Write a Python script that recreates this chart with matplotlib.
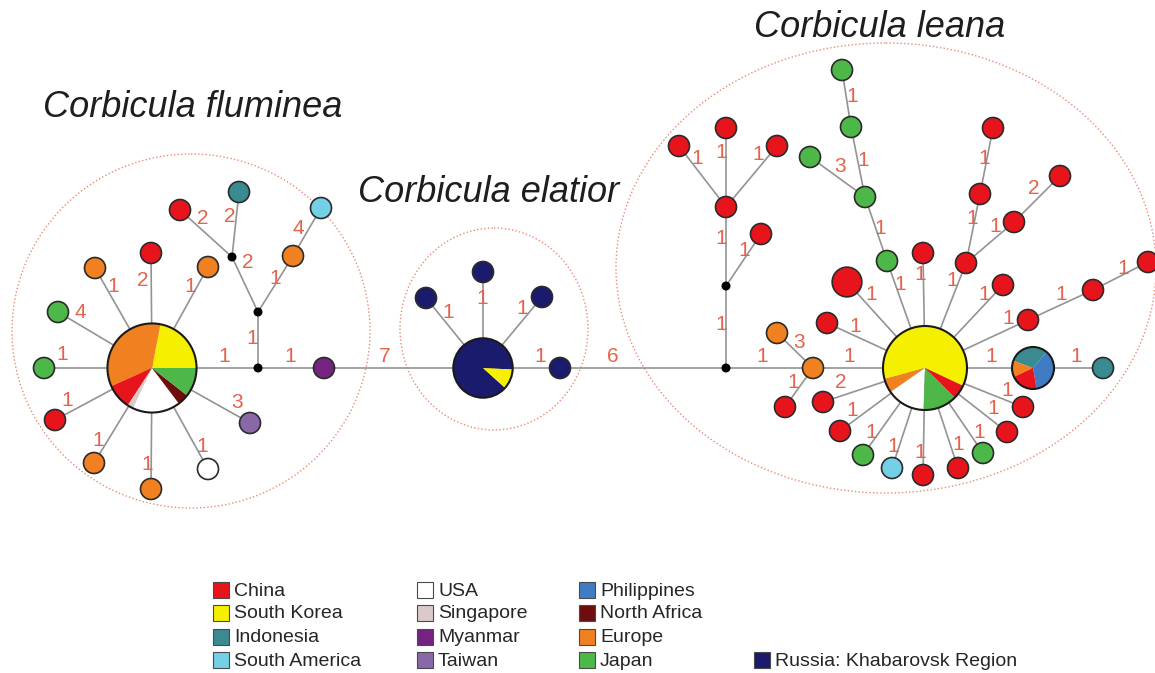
import numpy as np
import matplotlib
matplotlib.use("Agg")
import matplotlib.pyplot as plt
from matplotlib.patches import Circle, Wedge, Ellipse, Rectangle

# ---------------- data ----------------
regions = ['China', 'South Korea', 'Indonesia', 'South America',
           'USA', 'Singapore', 'Myanmar', 'Taiwan',
           'Philippines', 'North Africa', 'Europe', 'Japan',
           'Russia: Khabarovsk Region']

species_titles = ['Corbicula fluminea', 'Corbicula elatior', 'Corbicula leana']

# haplotype region ('mix' = shared haplotype drawn as pie, 'median' = median vector)
hap_region = ['mix', 'Japan', 'Japan', 'Europe', 'China', 'Europe', 'median', 'median',
              'median', 'China', 'Indonesia', 'Europe', 'South America', 'Myanmar',
              'Taiwan', 'USA', 'Europe', 'Europe', 'China',
              'mix', 'Russia: Khabarovsk Region', 'Russia: Khabarovsk Region',
              'Russia: Khabarovsk Region', 'Russia: Khabarovsk Region',
              'median', 'median', 'China', 'China', 'China', 'China', 'China',
              'Europe', 'Europe', 'China', 'mix', 'China', 'China', 'China',
              'Japan', 'Japan', 'Japan', 'Japan', 'Japan', 'China', 'China',
              'China', 'China', 'China', 'China', 'China', 'China', 'China',
              'China', 'mix', 'Indonesia', 'China', 'China', 'Japan', 'China',
              'China', 'South America', 'Japan', 'China']
hap_freq = [18, 1, 1, 1, 1, 1, 0, 0, 0, 1, 1, 1, 1, 1, 1, 1, 1, 1, 1,
            8, 1, 1, 1, 1,
            0, 0, 1, 1, 1, 1, 1, 1, 1, 1, 16, 1, 1, 2,
            1, 1, 1, 1, 1, 1, 1, 1, 1, 1, 1, 1, 1, 1, 1, 4, 1,
            1, 1, 1, 1, 1, 1, 1, 1]

# pie compositions (shares)
pie_nodes = [0, 19, 34, 53]
pie_regions = [
    ['South Korea', 'Europe', 'China', 'Singapore', 'USA', 'North Africa', 'Japan'],
    ['Russia: Khabarovsk Region', 'South Korea'],
    ['South Korea', 'Europe', 'USA', 'Japan', 'China'],
    ['Philippines', 'Indonesia', 'Europe', 'China'],
]
pie_shares = [
    [79, 125, 33, 8, 62, 15, 38],
    [321, 39],
    [220, 20, 53, 47, 20],
    [130, 110, 45, 75],
]

# network edges and number of mutational steps
edge_from = [0, 0, 0, 0, 0, 0, 6, 7, 8, 8, 7, 11, 6, 13, 0, 0, 0, 0, 0,
             19, 19, 19, 19, 23,
             24, 25, 25, 26, 26, 26, 24, 31, 31, 31,
             34, 34, 34, 34, 38, 39, 39, 40, 34, 34, 44, 45, 44, 47,
             34, 34, 50, 51, 34, 53, 34, 34, 34, 34, 34, 34, 34, 34]
edge_to = [1, 2, 3, 4, 5, 6, 7, 8, 9, 10, 11, 12, 13, 19, 14, 15, 16, 17, 18,
           20, 21, 22, 23, 24,
           25, 26, 30, 27, 28, 29, 31, 32, 33, 34,
           35, 36, 37, 38, 39, 40, 42, 41, 43, 44, 45, 46, 47, 48,
           49, 50, 51, 52, 53, 54, 55, 56, 57, 58, 59, 60, 61, 62]
edge_steps = [1, 4, 1, 2, 1, 1, 1, 2, 2, 2, 1, 4, 1, 7, 3, 1, 1, 1, 1,
              1, 1, 1, 1, 6,
              1, 1, 1, 1, 1, 1, 1, 3, 1, 1,
              2, 1, 1, 1, 1, 1, 3, 1, 1, 1, 1, 1, 1, 2,
              1, 1, 1, 1, 1, 1, 1, 1, 1, 1, 1, 1, 1, 1]

# ---------------- layout (pixel space) ----------------
node_x = [152, 44, 58, 95, 151, 208, 258, 258, 232, 180, 239, 293, 321, 324,
          250, 208, 151, 94, 55,
          483, 426, 483, 542, 560,
          726, 726, 726, 679, 726, 777, 761, 813, 777, 785, 925, 823, 827, 847,
          887, 865, 851, 842, 810, 923, 966, 980, 993, 1014, 1060, 1003, 1028,
          1093, 1148, 1033, 1103, 1023, 1007, 983, 958, 923, 892, 863, 840]
node_y = [368, 368, 312, 268, 253, 267, 368, 312, 257, 210, 192, 256, 208, 368,
          423, 469, 489, 463, 420,
          368, 298, 272, 297, 368,
          368, 286, 207, 146, 128, 146, 234, 368, 333, 407, 368, 402, 323, 282,
          261, 197, 127, 70, 157, 253, 263, 194, 128, 222, 176, 285, 320,
          290, 262, 368, 368, 407, 432, 453, 468, 475, 468, 455, 431]
pie_start = [0, -3, -25, -80]

label_x = [62, 80, 113, 143, 190, 224, 252, 248, 203, 230, 275, 298, 290, 385,
           237, 202, 147, 98, 67,
           448, 482, 522, 540, 613,
           721, 721, 744, 697, 721, 758, 762, 799, 793, 849,
           841, 855, 871, 900, 880, 863, 840, 852, 920, 952, 972, 984, 995, 1034,
           984, 1008, 1061, 1123, 991, 1076, 1007, 993, 979, 958, 920, 893, 871, 852]
label_y = [355, 313, 287, 280, 287, 356, 338, 263, 219, 217, 278, 228, 356, 356,
           403, 447, 465, 441, 400,
           313, 298, 309, 357, 357,
           324, 239, 250, 159, 152, 155, 357, 342, 382, 357,
           383, 327, 295, 284, 229, 160, 167, 96, 275, 281, 219, 158, 226, 189,
           294, 319, 295, 268, 357, 357, 391, 408, 432, 445, 452, 446, 433, 410]

colors = {
    'China': '#e8141c', 'South Korea': '#f5ef00', 'Indonesia': '#3b8a8f',
    'South America': '#74d0e6', 'USA': '#ffffff', 'Singapore': '#dccaca',
    'Myanmar': '#74237f', 'Taiwan': '#8a68a8', 'Philippines': '#3f7cc4',
    'North Africa': '#6e0d0d', 'Europe': '#f08020', 'Japan': '#4db848',
    'Russia: Khabarovsk Region': '#1b1b6e',
}

W, H = 1155, 673
fig = plt.figure(figsize=(W / 100, H / 100), dpi=100)
ax = fig.add_axes([0, 0, 1, 1])
ax.set_xlim(0, W)
ax.set_ylim(H, 0)
ax.axis('off')

FONT = 'Liberation Sans'
LABEL_C = '#e5634c'

# species groupings (dotted ellipses)
groups = [((191, 331), 358, 354), ((494, 329), 188, 202), ((886, 268), 540, 450)]
for (c, w, h) in groups:
    ax.add_patch(Ellipse(c, w, h, fill=False, edgecolor='#ea8a78', lw=1.0,
                         linestyle=(0, (1, 1.6)), zorder=0))

# edges
for a, b in zip(edge_from, edge_to):
    ax.plot([node_x[a], node_x[b]], [node_y[a], node_y[b]], color='#939393',
            lw=1.2, zorder=1, solid_capstyle='butt')

# nodes
R1 = 10.5
for i, (reg, f) in enumerate(zip(hap_region, hap_freq)):
    x, y = node_x[i], node_y[i]
    if reg == 'median':
        ax.add_patch(Circle((x, y), 3.8, facecolor='black', edgecolor='black', zorder=3))
    elif reg == 'mix':
        k = pie_nodes.index(i)
        r = R1 * np.sqrt(f)
        ang = pie_start[k]
        tot = sum(pie_shares[k])
        for rg, s in zip(pie_regions[k], pie_shares[k]):
            span = 360.0 * s / tot
            # y axis is inverted: screen angle a -> data angle -a
            ax.add_patch(Wedge((x, y), r, -(ang + span), -ang,
                               facecolor=colors[rg], edgecolor='none', zorder=3))
            ang += span
        ax.add_patch(Circle((x, y), r, fill=False, edgecolor='#1a1a1a', lw=1.5, zorder=4))
    else:
        r = R1 * np.sqrt(f)
        ax.add_patch(Circle((x, y), r, facecolor=colors[reg], edgecolor='#2b2b2b',
                            lw=1.2, zorder=3))

# mutation step labels
for s, lx, ly in zip(edge_steps, label_x, label_y):
    ax.text(lx, ly, str(s), color=LABEL_C, fontsize=15, family=FONT,
            ha='center', va='center', zorder=5)

# titles
title_pos = [(193, 117), (489, 202), (880, 37)]
for t, (tx, ty) in zip(species_titles, title_pos):
    ax.text(tx, ty, t, fontsize=26, family=FONT, style='italic', color='#1e1e1e',
            ha='center', va='baseline', zorder=6)

# legend
leg_cols = [regions[0:4], regions[4:8], regions[8:12], [None, None, None, regions[12]]]
col_sq_x = [213, 417, 579, 754]
row_y = [590, 613, 637, 660]
SQ = 16
for col, sx in zip(leg_cols, col_sq_x):
    for name, ry in zip(col, row_y):
        if name is None:
            continue
        ax.add_patch(Rectangle((sx, ry - SQ / 2), SQ, SQ, facecolor=colors[name],
                               edgecolor='#4a4a4a', lw=0.8, zorder=3))
        ax.text(sx + SQ + 5, ry + 1, name, fontsize=14, family=FONT, color='#262626',
                ha='left', va='center', zorder=3)

fig.savefig('out.png', dpi=100)
